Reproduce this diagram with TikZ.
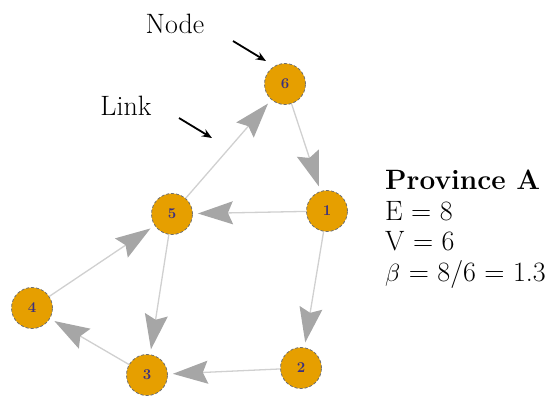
\documentclass[tikz,border=0pt]{standalone}
\usepackage{fontspec}
\usetikzlibrary{arrows.meta}
\definecolor{nodefill}{HTML}{E69F00}
\definecolor{nodeline}{HTML}{707070}
\definecolor{labcol}{HTML}{3A2F80}
\definecolor{edgecol}{HTML}{D0D0D0}
\definecolor{tipcol}{HTML}{A6A6A6}
\begin{document}
\begin{tikzpicture}[x=1pt,y=-1pt,
  vert/.style={circle,fill=nodefill,draw=nodeline,densely dashed,line width=0.8pt,minimum size=41pt,inner sep=0pt,font=\fontsize{15}{17}\selectfont\bfseries,text=labcol},
  edge/.style={draw=edgecol,line width=1.3pt,-{Stealth[length=35pt,width=23pt,inset=5pt,fill=tipcol,color=tipcol]},shorten >=5pt},
  callout/.style={-{Stealth[length=10pt,width=8pt]},line width=1.8pt,black},
  lab/.style={font=\fontsize{28}{32}\selectfont,anchor=base west,inner sep=0pt}]
\useasboundingbox (0,0) rectangle (550,408);
\node[vert] (n6) at (285,84) {6};
\node[vert] (n1) at (327,211) {1};
\node[vert] (n5) at (172,214) {5};
\node[vert] (n4) at (32,308) {4};
\node[vert] (n3) at (147,375) {3};
\node[vert] (n2) at (301,368) {2};
\draw[edge] (n6) -- (n1);
\draw[edge] (n1) -- (n5);
\draw[edge] (n5) -- (n6);
\draw[edge] (n1) -- (n2);
\draw[edge] (n2) -- (n3);
\draw[edge] (n3) -- (n4);
\draw[edge] (n4) -- (n5);
\draw[edge] (n5) -- (n3);
\node[lab,anchor=base] (tnode) at (175,33) {Node};
\node[lab,anchor=base] (tlink) at (126,115) {Link};
\coordinate (a1s) at (233,41);
\coordinate (a1e) at (266,61);
\coordinate (a2s) at (179,118);
\coordinate (a2e) at (212,138);
\draw[callout] (a1s) -- (a1e);
\draw[callout] (a2s) -- (a2e);
\node[lab,font=\fontsize{28}{32}\selectfont\bfseries] (tprov) at (385,189) {Province A};
\node[lab] (te) at (385,220) {E = 8};
\node[lab] (tv) at (385,250) {V = 6};
\node[lab] (tb) at (385,281) {$\beta$ = 8/6 = 1.3};
\end{tikzpicture}
\end{document}
